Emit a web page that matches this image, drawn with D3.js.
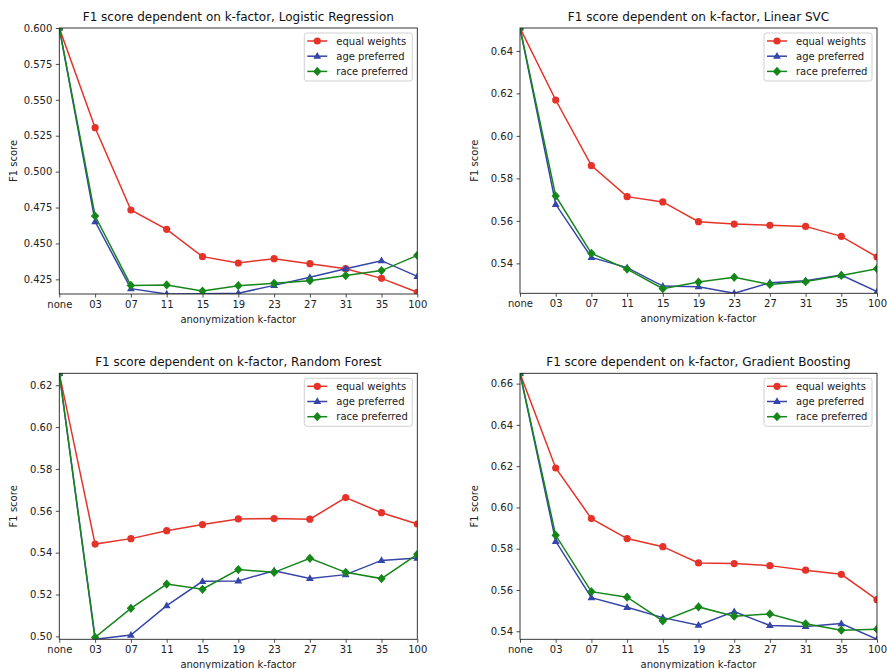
<!DOCTYPE html>
<html>
<head>
<meta charset="utf-8">
<script src="https://cdn.jsdelivr.net/npm/d3@7"></script>
<style>
  html, body { margin: 0; padding: 0; background: #fff; }
  svg { display: block; font-family: "DejaVu Sans", sans-serif; }
</style>
</head>
<body>
<svg id="chart" width="887" height="669"></svg>
<script>
// anonymization k-factor categories shared by every panel
const kFactors = ["none", "03", "07", "11", "15", "19", "23", "27", "31", "35", "100"];

const seriesNames = ["equal weights", "age preferred", "race preferred"];

// Logistic Regression
const lrEqual = [0.6000, 0.5306, 0.4733, 0.4598, 0.4408, 0.4364, 0.4394, 0.4359, 0.4324, 0.4257, 0.4160];
const lrAge   = [0.6000, 0.4652, 0.4185, 0.4148, 0.4149, 0.4153, 0.4208, 0.4264, 0.4324, 0.4380, 0.4271];
const lrRace  = [0.6000, 0.4691, 0.4208, 0.4211, 0.4169, 0.4206, 0.4222, 0.4241, 0.4276, 0.4311, 0.4417];
const lrTicks = [0.425, 0.450, 0.475, 0.500, 0.525, 0.550, 0.575, 0.600];

// Linear SVC
const svcEqual = [0.6508, 0.6169, 0.5860, 0.5714, 0.5689, 0.5596, 0.5585, 0.5579, 0.5574, 0.5527, 0.5430];
const svcAge   = [0.6508, 0.5678, 0.5428, 0.5380, 0.5293, 0.5290, 0.5259, 0.5309, 0.5318, 0.5345, 0.5267];
const svcRace  = [0.6508, 0.5717, 0.5447, 0.5373, 0.5281, 0.5312, 0.5334, 0.5301, 0.5314, 0.5343, 0.5375];
const svcTicks = [0.54, 0.56, 0.58, 0.60, 0.62, 0.64];

// Random Forest
const rfEqual = [0.6257, 0.5441, 0.5467, 0.5505, 0.5534, 0.5561, 0.5563, 0.5560, 0.5663, 0.5591, 0.5537];
const rfAge   = [0.6257, 0.4986, 0.5006, 0.5147, 0.5263, 0.5265, 0.5314, 0.5277, 0.5295, 0.5363, 0.5374];
const rfRace  = [0.6257, 0.4995, 0.5134, 0.5250, 0.5225, 0.5319, 0.5306, 0.5373, 0.5306, 0.5276, 0.5392];
const rfTicks = [0.50, 0.52, 0.54, 0.56, 0.58, 0.60, 0.62];

// Gradient Boosting
const gbEqual = [0.6650, 0.6191, 0.5946, 0.5849, 0.5810, 0.5731, 0.5728, 0.5718, 0.5696, 0.5676, 0.5553];
const gbAge   = [0.6650, 0.5836, 0.5563, 0.5516, 0.5466, 0.5429, 0.5495, 0.5428, 0.5423, 0.5437, 0.5361];
const gbRace  = [0.6650, 0.5865, 0.5592, 0.5565, 0.5450, 0.5518, 0.5473, 0.5484, 0.5436, 0.5405, 0.5410];
const gbTicks = [0.54, 0.56, 0.58, 0.60, 0.62, 0.64, 0.66];

const colors = ["#e5332a", "#3545a8", "#15861a"];
const markers = ["circle", "triangle", "diamond"];

const panels = [
  { title: "F1 score dependent on k-factor, Logistic Regression", series: [lrEqual, lrAge, lrRace], ticks: lrTicks, fmt: ".3f",
    x0: 59.3, x1: 417.3, y0: 28, y1: 294 },
  { title: "F1 score dependent on k-factor, Linear SVC", series: [svcEqual, svcAge, svcRace], ticks: svcTicks, fmt: ".2f",
    x0: 520, x1: 877, y0: 28, y1: 293.3 },
  { title: "F1 score dependent on k-factor, Random Forest", series: [rfEqual, rfAge, rfRace], ticks: rfTicks, fmt: ".2f",
    x0: 59.3, x1: 417.3, y0: 373.3, y1: 639.3 },
  { title: "F1 score dependent on k-factor, Gradient Boosting", series: [gbEqual, gbAge, gbRace], ticks: gbTicks, fmt: ".2f",
    x0: 520, x1: 877, y0: 373.3, y1: 639.3 }
];

const svg = d3.select("#chart");
const ink = "#222";

function drawMarker(sel, type, color) {
  if (type === "circle") {
    sel.append("circle").attr("r", 3.6).attr("fill", color);
  } else if (type === "triangle") {
    sel.append("path").attr("d", "M0,-4.2L3.9,2.6L-3.9,2.6Z").attr("fill", color);
  } else {
    sel.append("path").attr("d", "M0,-4.6L4.2,0L0,4.6L-4.2,0Z").attr("fill", color);
  }
}

panels.forEach((p, pi) => {
  const all = p.series.flat();
  const x = d3.scalePoint().domain(kFactors).range([p.x0, p.x1]).padding(0);
  const y = d3.scaleLinear().domain(d3.extent(all)).range([p.y1, p.y0]);

  const g = svg.append("g");
  const clipId = "clip" + pi;
  g.append("clipPath").attr("id", clipId)
    .append("rect").attr("x", p.x0).attr("y", p.y0)
    .attr("width", p.x1 - p.x0).attr("height", p.y1 - p.y0);

  // series lines and markers
  const plot = g.append("g").attr("clip-path", `url(#${clipId})`);
  const line = d3.line().x((d, i) => x(kFactors[i])).y(d => y(d));
  p.series.forEach((vals, si) => {
    plot.append("path").datum(vals).attr("d", line)
      .attr("fill", "none").attr("stroke", colors[si]).attr("stroke-width", 1.5);
    vals.forEach((v, i) => {
      const m = plot.append("g").attr("transform", `translate(${x(kFactors[i])},${y(v)})`);
      drawMarker(m, markers[si], colors[si]);
    });
  });

  // axes
  const xAxis = d3.axisBottom(x).tickSize(3.5).tickPadding(3.5);
  const gx = g.append("g").attr("transform", `translate(0,${p.y1})`).call(xAxis);
  const yAxis = d3.axisLeft(y).tickValues(p.ticks).tickFormat(d3.format(p.fmt)).tickSize(3.5).tickPadding(3.5);
  const gy = g.append("g").attr("transform", `translate(${p.x0},0)`).call(yAxis);
  [gx, gy].forEach(a => {
    a.select(".domain").remove();
    a.selectAll(".tick line").attr("stroke", ink).attr("stroke-width", 0.8);
    a.selectAll(".tick text").attr("fill", ink).style("font-size", "10px")
      .style("font-family", "'DejaVu Sans', sans-serif");
  });

  // frame
  g.append("rect").attr("x", p.x0).attr("y", p.y0)
    .attr("width", p.x1 - p.x0).attr("height", p.y1 - p.y0)
    .attr("fill", "none").attr("stroke", ink).attr("stroke-width", 0.9);

  // title and axis labels
  const cx = (p.x0 + p.x1) / 2;
  g.append("text").attr("x", cx).attr("y", p.y0 - 7).attr("text-anchor", "middle")
    .attr("fill", "#111").style("font-size", "12px").text(p.title);
  g.append("text").attr("x", cx).attr("y", p.y1 + 29).attr("text-anchor", "middle")
    .attr("fill", ink).style("font-size", "10px").text("anonymization k-factor");
  g.append("text")
    .attr("transform", `translate(${p.x0 - 42},${(p.y0 + p.y1) / 2}) rotate(-90)`)
    .attr("text-anchor", "middle").attr("fill", ink).style("font-size", "10px").text("F1 score");

  // legend
  const lw = 108, lh = 48;
  const lx = p.x1 - 5 - lw, ly = p.y0 + 5;
  const lg = g.append("g").attr("transform", `translate(${lx},${ly})`);
  lg.append("rect").attr("width", lw).attr("height", lh).attr("rx", 2.5)
    .attr("fill", "#fff").attr("fill-opacity", 0.85).attr("stroke", "#ccc").attr("stroke-width", 0.9);
  seriesNames.forEach((name, si) => {
    const yy = 8 + si * 15.2;
    lg.append("line").attr("x1", 3).attr("x2", 23).attr("y1", yy).attr("y2", yy)
      .attr("stroke", colors[si]).attr("stroke-width", 1.5);
    drawMarker(lg.append("g").attr("transform", `translate(13,${yy})`), markers[si], colors[si]);
    lg.append("text").attr("x", 32).attr("y", yy + 3.6).attr("fill", ink)
      .style("font-size", "10px").text(name);
  });
});
</script>
</body>
</html>
